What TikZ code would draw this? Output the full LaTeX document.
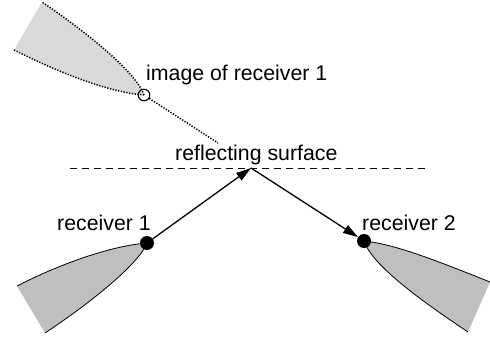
\documentclass[tikz,border=0pt]{standalone}
\usepackage{fontspec}
\setmainfont{Liberation Sans}
\usetikzlibrary{arrows.meta}
\begin{document}
\begin{tikzpicture}[x=1pt,y=-1pt,
  lbl/.style={anchor=base west,inner sep=0pt,font=\fontsize{21.3}{25}\selectfont},
  dotnode/.style={circle,fill=black,inner sep=0pt,minimum size=14pt},
  imgnode/.style={circle,draw=black,line width=1.1pt,inner sep=0pt,minimum size=11.5pt},
  conefill/.style={fill=black!25},
  imgfill/.style={fill=black!15},
  edge/.style={line width=0.8pt},
  dotedge/.style={line width=1.5pt,dash pattern=on 1.3pt off 1.5pt},
  ray/.style={line width=1.3pt,-{Triangle[length=15pt,width=9pt]}},
  surf/.style={line width=1pt,dash pattern=on 7pt off 5pt}]
\useasboundingbox (0,0) rectangle (490,337);
% image cone
\fill[imgfill] (144,95) .. controls (137,74) and (92,36) .. (42,2) -- (14,50) .. controls (58,72) and (107,92) .. (144,95);
\draw[dotedge] (144,95) .. controls (137,74) and (92,36) .. (42,2);
\draw[dotedge] (14,50) .. controls (58,72) and (107,92) .. (144,95);
% receiver 1 cone
\fill[conefill] (147,243) .. controls (110,246) and (60,264) .. (17,286) -- (45,333) .. controls (95,300) and (140,262) .. (147,243);
\draw[edge] (147,243) .. controls (110,246) and (60,264) .. (17,286);
\draw[edge] (45,333) .. controls (95,300) and (140,262) .. (147,243);
% receiver 2 cone
\fill[conefill] (364,241) .. controls (395,244) and (440,262) .. (490,282) -- (468,332) .. controls (420,300) and (372,265) .. (364,241);
\draw[edge] (364,241) .. controls (395,244) and (440,262) .. (490,282);
\draw[edge] (468,332) .. controls (420,300) and (372,265) .. (364,241);
% nodes
\node[imgnode] (img) at (144,95) {};
\node[dotnode] (r1) at (147,243) {};
\node[dotnode] (r2) at (364,241) {};
\coordinate (refl) at (251,168);
\coordinate (dotend) at (218,143);
\coordinate (sl) at (70,168);
\coordinate (sr) at (425,168);
% lines
\draw[surf] (sl) -- (sr);
\draw[dotedge] (img) -- (dotend);
\draw[ray] (r1) -- (refl);
\draw[ray] (refl) -- (r2);
% labels
\node[lbl] (limg) at (146,81) {image of receiver 1};
\node[lbl] (lsurf) at (175,160) {reflecting surface};
\node[lbl] (lr1) at (57,230) {receiver 1};
\node[lbl] (lr2) at (362,230) {receiver 2};
\end{tikzpicture}
\end{document}
